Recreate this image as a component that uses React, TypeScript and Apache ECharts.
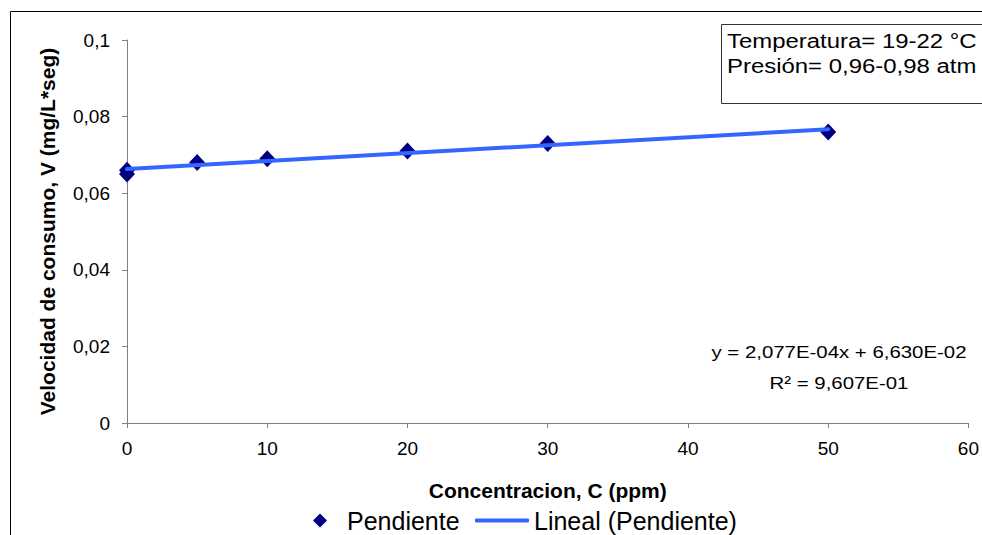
import React, { useEffect, useRef } from "react";
import * as echarts from "echarts";

const concentracion = [0, 0, 5, 10, 20, 30, 50];
const velocidad = [0.065, 0.066, 0.068, 0.069, 0.071, 0.073, 0.076];
const trendSlope = 2.077e-4;
const trendIntercept = 6.63e-2;
const trendRange = [0, 50];
const xTicks = { min: 0, max: 60, interval: 10 };
const yTicks = { min: 0, max: 0.1, interval: 0.02 };
const annotationLines = ["Temperatura= 19-22 °C", "Presión= 0,96-0,98 atm"];
const equationLines = ["y = 2,077E-04x + 6,630E-02", "R² = 9,607E-01"];

const FONT = "'Liberation Sans', Arial, sans-serif";

const fmt = (v: number) => String(Number(v.toFixed(4))).replace(".", ",");

export default function App() {
  const ref = useRef<HTMLDivElement>(null);
  useEffect(() => {
    if (!ref.current) return;
    const chart = echarts.init(ref.current, undefined, { renderer: "svg" });
    const trendData = trendRange.map((x) => [x, trendIntercept + trendSlope * x]);
    chart.setOption({
      animation: false,
      backgroundColor: "#ffffff",
      textStyle: { fontFamily: FONT },
      grid: { left: 127, right: 7, top: 40, bottom: 112, containLabel: false },
      xAxis: {
        type: "value",
        min: xTicks.min,
        max: xTicks.max,
        interval: xTicks.interval,
        name: "Concentracion, C (ppm)",
        nameLocation: "middle",
        nameGap: 57,
        nameTextStyle: { fontFamily: FONT, fontWeight: "bold", fontSize: 21, color: "#000" },
        axisLine: { show: true, onZero: false, lineStyle: { color: "#808080", width: 1 } },
        axisTick: { show: true, length: 5, inside: false, lineStyle: { color: "#808080" } },
        axisLabel: { fontFamily: FONT, fontSize: 19, color: "#000", margin: 16 },
        splitLine: { show: false },
      },
      yAxis: {
        type: "value",
        min: yTicks.min,
        max: yTicks.max,
        interval: yTicks.interval,
        name: "Velocidad de consumo, V (mg/L*seg)",
        nameLocation: "middle",
        nameGap: 69,
        nameTextStyle: { fontFamily: FONT, fontWeight: "bold", fontSize: 21, color: "#000" },
        axisLine: { show: true, onZero: false, lineStyle: { color: "#808080", width: 1 } },
        axisTick: { show: true, length: 5, inside: false, lineStyle: { color: "#808080" } },
        axisLabel: { fontFamily: FONT, fontSize: 19, color: "#000", margin: 17, formatter: fmt },
        splitLine: { show: false },
      },
      legend: [
        {
          data: [{ name: "Pendiente", icon: "path://M0,-1L1,0L0,1L-1,0Z" }],
          left: 308,
          top: 503,
          itemWidth: 44,
          itemHeight: 14,
          symbolKeepAspect: true,
          textStyle: { fontFamily: FONT, fontSize: 25, color: "#000" },
          selectedMode: false,
        },
        {
          data: [{ name: "Lineal (Pendiente)", icon: "roundRect" }],
          left: 470,
          top: 503,
          itemWidth: 54,
          itemHeight: 4,
          textStyle: { fontFamily: FONT, fontSize: 25, color: "#000" },
          selectedMode: false,
        },
      ],
      series: [
        {
          name: "Pendiente",
          type: "scatter",
          data: concentracion.map((c, i) => [c, velocidad[i]]),
          symbol: "diamond",
          symbolSize: [16, 17],
          itemStyle: { color: "#000080", opacity: 1 },
          z: 2,
        },
        {
          name: "Lineal (Pendiente)",
          type: "line",
          data: trendData,
          symbol: "none",
          lineStyle: { color: "#3366FF", width: 4, cap: "round" },
          itemStyle: { color: "#3366FF" },
          z: 3,
        },
      ],
      graphic: [
        {
          type: "rect",
          shape: { x: 10.5, y: 11.5, width: 1200, height: 800 },
          style: { fill: "none", stroke: "#000", lineWidth: 1 },
          silent: true,
          z: -10,
        },
        {
          type: "rect",
          shape: { x: 721.5, y: 24.5, width: 400, height: 79 },
          style: { fill: "#fff", stroke: "#333", lineWidth: 1 },
          silent: true,
          z: 10,
        },
        {
          type: "text",
          x: 727,
          y: 29,
          scaleX: 1.14,
          style: {
            text: annotationLines.join("\n"),
            fontFamily: FONT,
            fontSize: 21,
            lineHeight: 25,
            fill: "#000",
          },
          z: 11,
        },
        {
          type: "text",
          x: 839,
          y: 337,
          scaleX: 1.2,
          style: {
            text: equationLines.join("\n"),
            fontFamily: FONT,
            fontSize: 17,
            lineHeight: 31,
            fill: "#000",
            align: "center",
          },
          z: 11,
        },
      ],
    });
    return () => chart.dispose();
  }, []);
  return <div ref={ref} style={{ width: 982, height: 535, position: "absolute", left: 0, top: 0 }} />;
}
